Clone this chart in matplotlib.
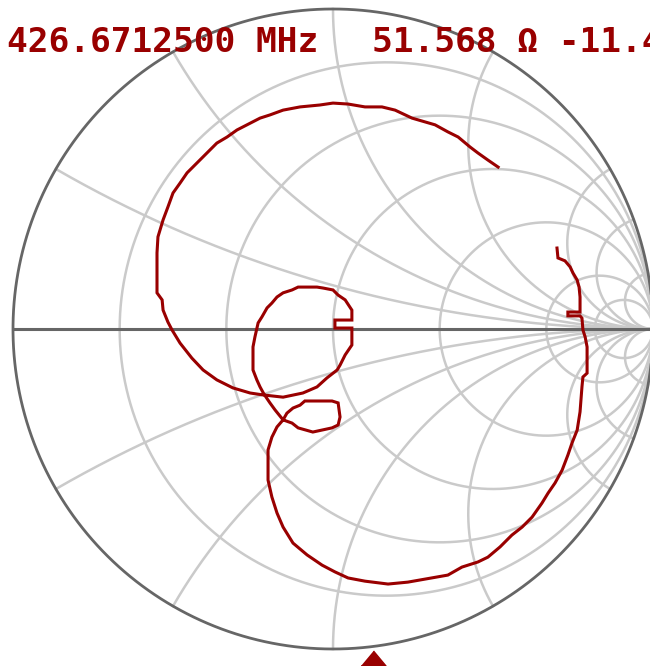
import numpy as np
import matplotlib
matplotlib.use('Agg')
import matplotlib.pyplot as plt

# Header readout (frequency, R, X)
freq_label = '426.6712500 MHz'
z_label = '51.568 \u03a9 -11.4'

# Smith grid values
r_circles = [0.2, 0.5, 1.0, 2.0, 5.0, 10.0]
x_angles_deg = [10, 20, 30, 60, 90, 120, 150]  # arc end points on the rim

gamma_re = [0.516, 0.484, 0.453, 0.428, 0.391, 0.359, 0.319, 0.288, 0.247, 0.194,
            0.153, 0.100, 0.047, 0.000, -0.041, -0.103, -0.156, -0.197, -0.228, -0.269,
            -0.300, -0.331, -0.363, -0.394, -0.425, -0.456, -0.478, -0.500, -0.516, -0.531,
            -0.547, -0.550, -0.550, -0.534, -0.531, -0.516, -0.503, -0.478, -0.441, -0.406,
            -0.363, -0.313, -0.259, -0.219,
            -0.156, -0.094, -0.050, -0.019, 0.013, 0.022,
            0.038, 0.059, 0.059, 0.006, 0.006, 0.059, 0.059, 0.038, 0.016, 0.000,
            -0.031, -0.050, -0.109, -0.128, -0.156, -0.175, -0.191, -0.206, -0.222, -0.234,
            -0.244, -0.250, -0.250, -0.238, -0.228, -0.216,
            -0.197, -0.181, -0.156,
            -0.128, -0.109, -0.063, -0.003, 0.016, 0.022, 0.016, -0.003, -0.088, -0.103,
            -0.125, -0.144, -0.156,
            -0.175, -0.191, -0.203, -0.203, -0.191, -0.175, -0.156, -0.125, -0.081, -0.034,
            0.006, 0.047, 0.100, 0.172, 0.234, 0.309, 0.359, 0.403, 0.453, 0.484,
            0.522, 0.559, 0.591, 0.622, 0.653, 0.672, 0.694, 0.716, 0.734, 0.747,
            0.763, 0.772, 0.778, 0.781, 0.794, 0.794, 0.788, 0.781, 0.778, 0.772,
            0.734, 0.734, 0.772, 0.772, 0.769, 0.763, 0.750, 0.741, 0.725, 0.703,
            0.700]
gamma_im = [0.506, 0.528, 0.550, 0.569, 0.600, 0.616, 0.638, 0.647, 0.659, 0.684,
            0.694, 0.694, 0.703, 0.706, 0.700, 0.694, 0.684, 0.669, 0.659, 0.638,
            0.622, 0.600, 0.581, 0.550, 0.519, 0.488, 0.456, 0.425, 0.381, 0.341,
            0.288, 0.238, 0.113, 0.091, 0.059, 0.022, -0.003, -0.044, -0.091, -0.128,
            -0.159, -0.184, -0.200, -0.206,
            -0.213, -0.200, -0.181, -0.153, -0.128, -0.113,
            -0.081, -0.050, 0.003, 0.003, 0.028, 0.028, 0.059, 0.091, 0.106, 0.122,
            0.128, 0.131, 0.131, 0.122, 0.113, 0.100, 0.081, 0.066, 0.038, 0.019,
            -0.025, -0.056, -0.128, -0.159, -0.181, -0.203,
            -0.231, -0.253, -0.284,
            -0.294, -0.309, -0.322, -0.309, -0.300, -0.275, -0.231, -0.225, -0.225, -0.238,
            -0.247, -0.263, -0.284,
            -0.306, -0.338, -0.378, -0.472, -0.525, -0.575, -0.619, -0.669, -0.706, -0.738,
            -0.759, -0.778, -0.788, -0.797, -0.791, -0.778, -0.769, -0.744, -0.728, -0.713,
            -0.681, -0.644, -0.619, -0.588, -0.544, -0.513, -0.481, -0.441, -0.394, -0.356,
            -0.316, -0.259, -0.181, -0.150, -0.138, -0.056, -0.025, -0.003, 0.034, 0.041,
            0.041, 0.053, 0.053, 0.100, 0.131, 0.153, 0.175, 0.194, 0.213, 0.222,
            0.253]

marker_re = 0.125

# screen layout: chart centre and radius in pixels
W, H = 650, 666
cx, cy, R = 333, 329, 320

fig = plt.figure(figsize=(W / 100, H / 100), dpi=100)
ax = fig.add_axes([0, 0, 1, 1])
ax.set_xlim(-cx / R, (W - cx) / R)
ax.set_ylim(-(H - cy) / R, cy / R)
ax.axis('off')

grid_c = '#cacaca'
rim_c = '#666666'
trace_c = '#990000'

# constant resistance circles
xs = np.tan(np.linspace(-np.pi / 2 + 1e-4, np.pi / 2 - 1e-4, 2000))
for r in r_circles:
    g = (r + 1j * xs - 1) / (r + 1j * xs + 1)
    ax.plot(g.real, g.imag, color=grid_c, lw=1.8, zorder=1)

# constant reactance arcs
rs = np.concatenate([[0], np.geomspace(1e-3, 1e4, 1500)])
for a in x_angles_deg:
    x = 1 / np.tan(np.radians(a) / 2)
    for s in (1, -1):
        g = (rs + 1j * s * x - 1) / (rs + 1j * s * x + 1)
        ax.plot(g.real, g.imag, color=grid_c, lw=1.8, zorder=1)

# rim and real axis
t = np.linspace(0, 2 * np.pi, 800)
ax.plot(np.cos(t), np.sin(t), color=rim_c, lw=2.0, zorder=2)
ax.plot([-1, 1], [0, 0], color=rim_c, lw=2.2, zorder=2)

# trace
ax.plot(gamma_re, gamma_im, color=trace_c, lw=2.2, solid_joinstyle='miter', zorder=3)

# marker triangle under the chart
tri = [(-1, -0.6), (1, -0.6), (0, 0.6)]
ax.plot([marker_re], [-(H - cy - 8) / R], marker=tri, markersize=18,
        color=trace_c, ls='none', zorder=4, clip_on=False)

# header text
fig.text(7 / W, 1 - 52 / H, freq_label, color=trace_c, fontsize=24.8,
         family='DejaVu Sans Mono', weight='bold', va='baseline', zorder=5)
fig.text(372 / W, 1 - 52 / H, z_label, color=trace_c, fontsize=24.8,
         family='DejaVu Sans Mono', weight='bold', va='baseline', zorder=5)

fig.savefig('out.png', dpi=100)
